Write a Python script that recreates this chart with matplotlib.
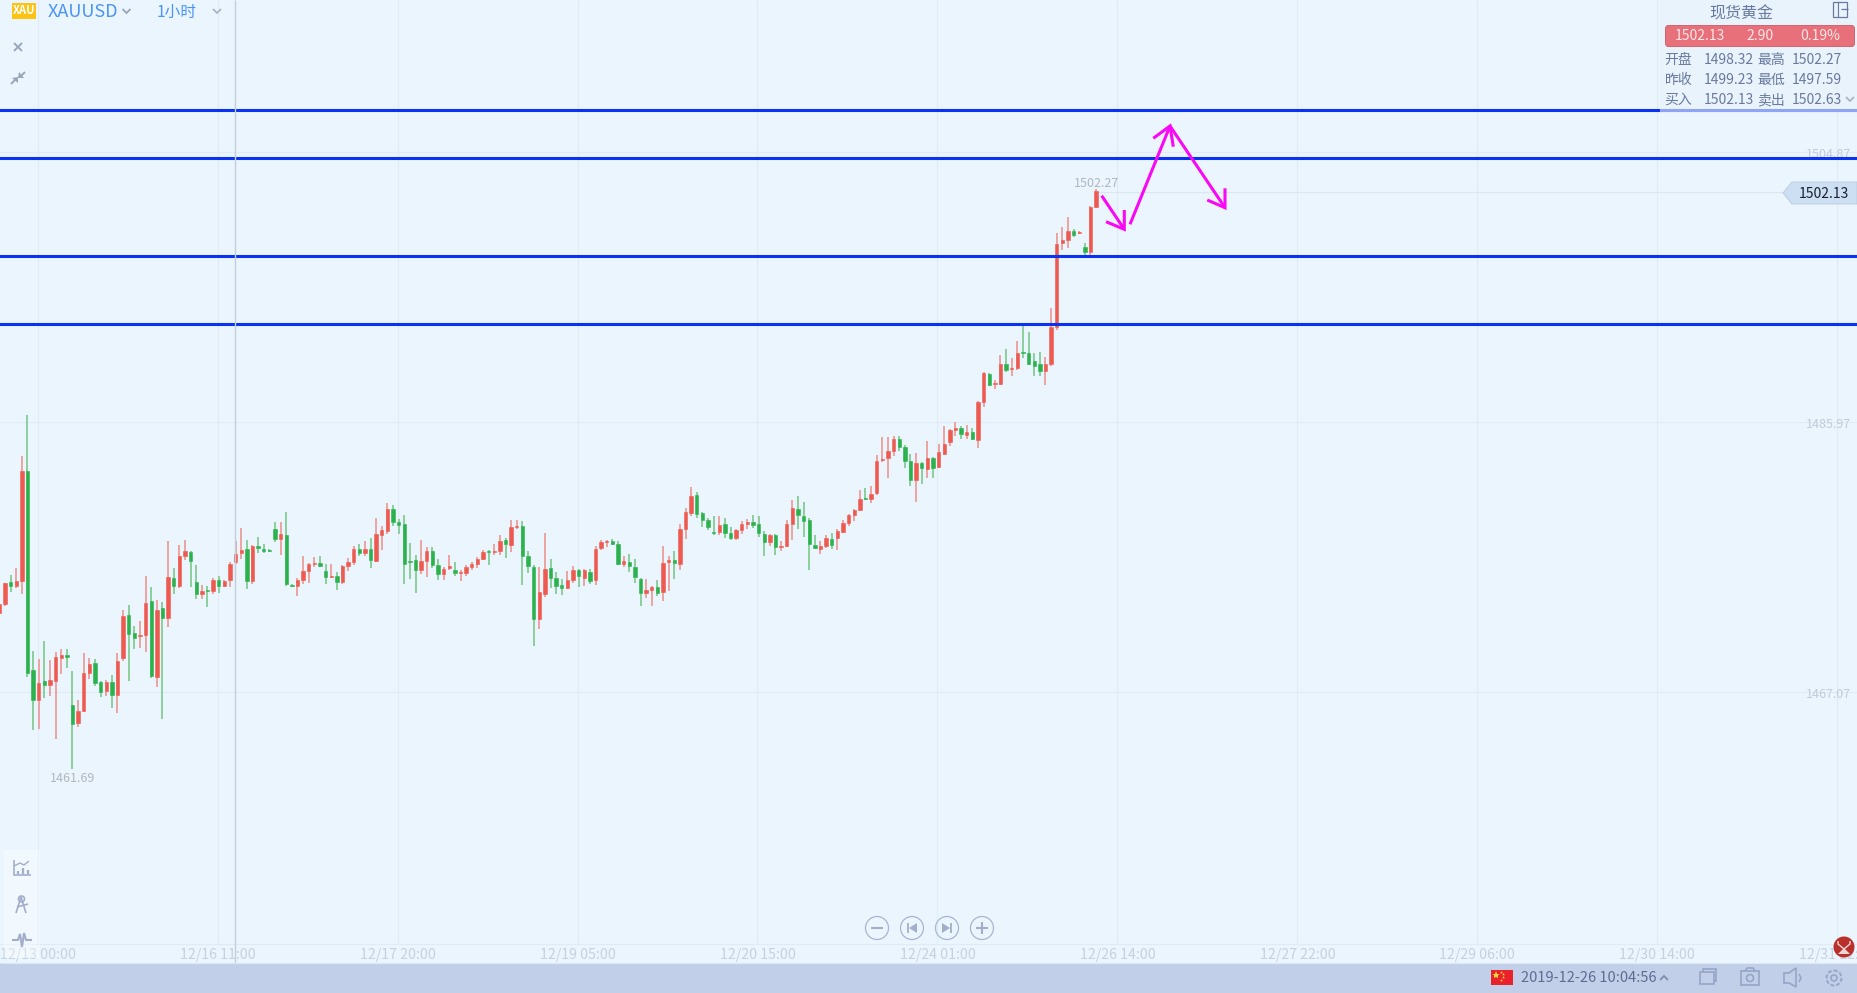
import matplotlib
matplotlib.use("Agg")
import matplotlib.pyplot as plt
from matplotlib.patches import Rectangle, Circle, Polygon, FancyBboxPatch
import numpy as np

plt.rcParams['font.family'] = ['Noto Sans CJK SC', 'DejaVu Sans']

# hourly candles
opens = [
    1472.57,1473.21,1474.79,1474.49,1474.84,1482.54,1468.61,1466.51,1467.84,1467.56,
    1467.84,1469.45,1469.66,1466.16,1464.90,1465.74,1468.40,1469.10,1467.77,1467.14,
    1467.77,1466.86,1469.45,1472.46,1471.20,1470.99,1471.06,1473.44,1468.12,1472.95,
    1472.25,1475.05,1474.49,1476.59,1476.87,1474.77,1473.93,1474.21,1474.14,1474.91,
    1474.49,1474.91,1476.17,1476.80,1477.08,1474.84,1477.29,1477.08,1477.01,1478.48,
    1477.78,1478.06,1474.58,1474.49,1474.91,1475.54,1476.03,1476.10,1475.54,1475.12,
    1475.19,1474.77,1475.89,1476.17,1477.08,1476.80,1477.08,1476.24,1478.06,1478.34,
    1479.88,1478.97,1478.83,1476.24,1476.31,1475.61,1476.24,1476.94,1475.96,1475.33,
    1475.75,1475.61,1475.40,1475.40,1475.82,1476.03,1476.38,1476.94,1476.87,1476.94,
    1477.71,1477.36,1478.62,1478.69,1476.59,1475.82,1472.18,1473.93,1475.75,1475.05,
    1474.56,1474.35,1474.91,1475.61,1475.05,1475.47,1474.91,1477.15,1477.57,1477.64,
    1477.43,1476.03,1476.17,1475.82,1474.98,1474.00,1474.21,1474.42,1474.07,1476.17,
    1476.31,1476.03,1478.48,1479.58,1480.86,1479.60,1479.11,1478.27,1478.27,1478.83,
    1478.20,1477.85,1478.41,1478.83,1478.97,1478.83,1478.13,1477.57,1478.06,1477.22,
    1477.29,1478.83,1479.88,1479.39,1479.11,1477.36,1477.08,1477.29,1477.78,1477.85,
    1478.27,1478.90,1479.46,1479.81,1480.65,1480.58,1481.00,1483.31,1483.45,1483.94,
    1484.78,1484.22,1483.24,1481.91,1483.10,1482.68,1483.45,1482.82,1483.73,1484.57,
    1485.41,1485.55,1485.06,1485.27,1484.71,1487.37,1489.33,1488.63,1488.63,1490.03,
    1489.68,1489.75,1490.87,1490.80,1490.24,1490.03,1489.54,1490.03,1492.64,1498.48,
    1498.71,1499.36,1499.20,1498.22,1497.87,1501.02,
]
closes = [
    1473.23,1474.72,1474.49,1474.84,1482.54,1468.38,1466.51,1467.70,1467.56,1467.91,
    1469.55,1469.66,1469.52,1464.83,1465.74,1468.40,1469.03,1467.70,1467.07,1467.77,
    1466.86,1469.24,1472.39,1471.13,1470.85,1471.06,1473.30,1468.19,1472.81,1472.25,
    1475.12,1474.49,1476.59,1476.94,1476.24,1473.93,1474.14,1474.14,1474.91,1474.49,
    1474.84,1476.03,1476.73,1477.01,1474.84,1477.29,1477.15,1476.94,1476.94,1477.78,
    1478.13,1474.63,1474.49,1474.91,1475.54,1476.03,1476.10,1475.89,1475.12,1475.19,
    1474.77,1475.89,1476.17,1477.08,1476.80,1477.08,1476.31,1478.13,1478.41,1479.88,
    1478.97,1478.76,1476.03,1476.17,1475.61,1476.24,1476.94,1475.96,1475.33,1475.68,
    1475.89,1475.40,1475.47,1475.82,1476.03,1476.38,1476.87,1476.87,1476.94,1477.64,
    1477.43,1478.62,1478.69,1476.59,1475.89,1472.18,1474.07,1475.68,1475.05,1474.49,
    1474.35,1474.91,1475.61,1475.19,1475.61,1474.84,1477.08,1477.57,1477.64,1477.43,
    1476.03,1476.24,1475.89,1475.12,1474.00,1474.21,1474.42,1474.00,1476.10,1476.31,
    1476.10,1478.48,1479.67,1480.79,1479.53,1479.11,1478.62,1478.20,1478.76,1478.20,
    1477.85,1478.41,1478.83,1478.97,1478.76,1478.20,1477.57,1478.06,1477.22,1477.29,
    1478.83,1479.95,1479.46,1479.04,1477.43,1477.15,1477.29,1477.85,1477.36,1478.34,
    1478.90,1479.46,1479.81,1480.58,1480.58,1480.93,1483.24,1483.38,1483.94,1484.78,
    1484.22,1483.24,1481.91,1483.10,1482.75,1483.45,1482.75,1483.87,1484.43,1485.41,
    1485.55,1485.13,1485.27,1484.78,1487.37,1489.40,1488.56,1488.70,1490.03,1489.61,
    1489.75,1490.80,1490.80,1490.03,1489.89,1489.54,1490.03,1492.62,1498.43,1498.71,
    1499.34,1499.08,1499.27,1497.87,1501.02,1502.13,
]
highs = [
    1473.23,1474.72,1475.26,1475.75,1483.59,1486.46,1469.94,1469.38,1470.64,1469.31,
    1469.87,1470.08,1470.08,1468.54,1466.51,1469.80,1469.45,1469.38,1467.84,1467.91,
    1468.26,1469.80,1472.81,1473.16,1471.69,1472.04,1475.19,1474.42,1473.51,1473.37,
    1477.64,1475.75,1477.36,1477.71,1476.94,1475.96,1474.56,1474.49,1475.05,1475.19,
    1474.91,1476.17,1477.64,1478.55,1477.71,1477.36,1477.92,1477.43,1477.08,1478.97,
    1478.97,1479.67,1474.63,1475.05,1476.59,1476.10,1476.52,1476.59,1476.03,1476.03,
    1475.47,1475.96,1476.45,1477.29,1477.43,1477.64,1477.85,1479.25,1478.69,1480.30,
    1480.16,1479.18,1479.46,1477.50,1476.66,1477.71,1477.22,1477.22,1476.38,1475.82,
    1476.66,1476.17,1475.61,1475.96,1476.17,1476.52,1477.01,1477.01,1477.43,1478.06,
    1477.85,1479.11,1479.11,1479.04,1476.94,1475.96,1475.82,1478.20,1476.38,1475.47,
    1474.98,1475.54,1475.89,1475.68,1475.68,1475.68,1477.29,1477.71,1477.71,1477.78,
    1477.64,1476.59,1476.73,1476.38,1475.05,1474.98,1474.49,1474.91,1477.29,1476.59,
    1476.94,1478.83,1479.95,1481.42,1481.07,1479.67,1479.25,1479.39,1479.39,1479.25,
    1478.62,1478.48,1479.04,1479.18,1479.46,1479.39,1478.34,1478.13,1478.13,1477.64,
    1479.11,1480.51,1480.79,1480.37,1479.25,1478.06,1477.64,1478.06,1478.20,1478.48,
    1479.11,1479.53,1479.88,1481.21,1481.35,1481.49,1483.66,1484.92,1484.92,1484.99,
    1484.99,1484.36,1483.73,1483.80,1483.17,1484.64,1483.52,1484.43,1485.69,1485.48,
    1485.97,1485.69,1485.76,1485.55,1487.44,1489.47,1489.40,1488.91,1490.66,1491.08,
    1490.45,1491.64,1492.76,1492.27,1490.80,1490.87,1490.52,1493.95,1499.20,1499.62,
    1500.32,1499.48,1499.32,1498.50,1501.09,1502.27,
]
lows = [
    1472.46,1473.09,1474.07,1474.37,1473.93,1468.15,1464.41,1464.48,1466.65,1466.79,
    1463.78,1468.33,1468.75,1461.69,1464.62,1465.67,1467.98,1467.49,1466.72,1466.79,
    1465.95,1465.60,1469.24,1467.84,1470.08,1470.15,1469.87,1468.05,1467.42,1465.18,
    1471.62,1473.93,1474.35,1476.31,1474.42,1473.58,1473.58,1473.02,1473.93,1474.00,
    1474.42,1474.42,1476.03,1476.38,1474.28,1474.63,1476.80,1476.80,1476.87,1477.57,
    1476.66,1474.49,1474.42,1473.79,1474.63,1474.70,1475.82,1475.82,1474.63,1475.05,
    1474.21,1474.63,1475.54,1475.96,1476.59,1476.59,1475.75,1476.17,1477.01,1478.13,
    1478.69,1478.13,1474.63,1474.98,1474.00,1475.33,1475.12,1475.75,1474.91,1474.91,
    1475.61,1475.19,1474.84,1475.19,1475.61,1475.75,1476.31,1475.96,1476.66,1476.66,
    1476.45,1476.87,1478.48,1474.56,1475.40,1470.29,1471.48,1473.72,1474.35,1473.93,
    1473.86,1474.28,1474.70,1474.42,1474.49,1474.63,1474.56,1477.01,1477.22,1477.36,
    1475.96,1475.82,1475.47,1474.70,1473.09,1473.65,1473.09,1473.79,1473.44,1474.14,
    1474.98,1475.61,1477.78,1479.39,1479.25,1478.62,1478.41,1478.06,1478.06,1477.85,
    1477.71,1477.71,1478.13,1478.48,1478.55,1477.92,1476.59,1477.29,1476.66,1476.94,
    1477.22,1477.71,1478.48,1477.92,1475.61,1477.08,1476.73,1477.15,1477.08,1477.01,
    1478.20,1478.69,1479.04,1479.74,1480.51,1480.30,1480.86,1483.17,1482.05,1483.59,
    1483.94,1482.75,1481.49,1480.37,1481.63,1482.05,1482.05,1482.75,1483.66,1484.29,
    1484.99,1484.78,1484.78,1484.71,1484.15,1487.02,1488.49,1488.28,1488.56,1489.47,
    1489.19,1489.61,1490.45,1489.96,1489.19,1489.19,1488.56,1489.89,1492.41,1498.01,
    1498.15,1498.92,1499.13,1497.66,1497.66,1500.95,
]

time_labels = ['12/13 00:00', '12/16 11:00', '12/17 20:00', '12/19 05:00', '12/20 15:00', '12/24 01:00',
               '12/26 14:00', '12/27 22:00', '12/29 06:00', '12/30 14:00', '12/31 22:00']
price_ticks = [1504.87, 1485.97, 1467.07]
level_lines = [1507.81, 1504.45, 1497.59, 1492.83]
last_price = 1502.13

opens, closes = np.array(opens), np.array(closes)
highs, lows = np.array(highs), np.array(lows)
idx = np.arange(len(opens))
up = closes >= opens

BG = '#eaf5fe'
GRID = '#e0ebf5'
TXT = '#6a799f'
ICON = '#a3aecb'

W, H = 1857, 993
fig = plt.figure(figsize=(W / 100, H / 100), dpi=100, facecolor=BG)
ax = fig.add_axes([0, 0, 1, 1], facecolor=BG)
ax.set_xlim(0.111, 330.3)
ax.set_ylim(1446.0, 1515.51)
ax.axis('off')

# grid, stops at the time axis
tick_idx = 6.8 + 32 * np.arange(len(time_labels))
y_axis_bottom = 1467.07 + 0.07 * (692 - 944)
ax.vlines(tick_idx, y_axis_bottom, 1515.51, color=GRID, lw=0.8, zorder=1)
ax.hlines(price_ticks, 0, 330.3, color=GRID, lw=0.8, zorder=1)
ax.hlines(y_axis_bottom, 0, 330.3, color=GRID, lw=0.8, zorder=1)
for t, lab in zip(tick_idx, time_labels):
    ax.text(t, 1467.07 + 0.07 * (692 - 955), lab, ha='center', va='center', fontsize=10.2, color='#c6d1e0', zorder=2)
for p in price_ticks:
    ax.text(329.2, p - 0.15, f'{p:.2f}', ha='right', va='center', fontsize=9, color='#c2cbd8', zorder=2)

# last price line
ax.hlines(last_price - 0.05, idx[-1], 330.3, color='#dae6f2', lw=0.8, zorder=1)

# candles
red, green = '#ee5a50', '#2bb24c'
red_w, green_w = '#eca3a1', '#8bcf9c'
ax.vlines(idx[up], lows[up], highs[up], color=red_w, lw=1.4, zorder=3)
ax.vlines(idx[~up], lows[~up], highs[~up], color=green_w, lw=1.4, zorder=3)
body_low = np.minimum(opens, closes)
body_h = np.abs(closes - opens)
ax.bar(idx[up], body_h[up], 0.6, bottom=body_low[up], color=red, edgecolor=red, lw=0.4, zorder=4)
ax.bar(idx[~up], body_h[~up], 0.6, bottom=body_low[~up], color=green, edgecolor=green, lw=0.4, zorder=4)

# high / low marks
hi_i, lo_i = int(np.argmax(highs[6:])) + 6, int(np.argmin(lows))
ax.annotate(f'{highs[hi_i]:.2f}', (idx[hi_i], highs[hi_i]), xytext=(0, -0.7), textcoords='offset points',
            ha='center', va='bottom', fontsize=9, color='#b2b7bd', zorder=5)
ax.annotate(f'{lows[lo_i]:.2f}', (idx[lo_i], lows[lo_i]), xytext=(0, -2.3), textcoords='offset points',
            ha='center', va='top', fontsize=9, color='#b2b7bd', zorder=5)

# drawn levels
ax.hlines(level_lines, 0, 330.3, color='#0a32f0', lw=2.2, zorder=6)

# everything else is screen furniture, placed in pixels
ui = fig.add_axes([0, 0, 1, 1], facecolor='none')
ui.set_xlim(0, W)
ui.set_ylim(H, 0)
ui.axis('off')


def line(xs, ys, color=ICON, lw=1.2, z=10):
    ui.plot(xs, ys, color=color, lw=lw, zorder=z, solid_capstyle='butt', solid_joinstyle='miter')


def chevron(x, y, color='#9aa6bb', s=4, flip=1):
    line([x - s, x, x + s], [y - s / 2 * flip, y + s / 2 * flip, y - s / 2 * flip], color, 1.3)


# crosshair
line([235, 235], [0, 963], '#c3cedd', 1.0, 7)

# hand drawn arrows
MAG = '#fa08f5'
for stroke in [
    ([1101.7, 1124.3], [195.7, 229.3]), ([1106, 1124.3, 1124.3], [221.7, 229.3, 210]),
    ([1130, 1170], [224.3, 126]), ([1153.3, 1170, 1173.3], [138.3, 126, 146.7]),
    ([1170, 1225], [126, 207.7]), ([1207.3, 1225, 1225], [200, 207.7, 188.3]),
]:
    line(stroke[0], stroke[1], MAG, 2.2, 8)

# top left
ui.add_patch(Rectangle((12, 3), 24, 16, fc='#fdc313', ec='none', zorder=10))
ui.text(24, 11, 'XAU', ha='center', va='center', fontsize=8, color='white', fontweight='bold', zorder=11)
ui.text(48, 12, 'XAUUSD', ha='left', va='center', fontsize=13, color='#4b94f5', zorder=11)
chevron(126.5, 11)
ui.text(157, 12, '1小时', ha='left', va='center', fontsize=11.3, color='#4b94f5', zorder=11)
chevron(217, 11, '#aab5c8')
line([14, 22], [43, 51], '#9aa6bb', 1.4)
line([22, 14], [43, 51], '#9aa6bb', 1.4)
# collapse icon, two arrows pointing in
line([11, 16], [84, 79], '#9aa6bb', 1.4)
line([20, 25], [77, 72], '#9aa6bb', 1.4)
ui.add_patch(Polygon([(18, 77), (12, 78), (18, 83)], fc='#9aa6bb', ec='none', zorder=10))
ui.add_patch(Polygon([(18, 78), (24, 78), (19, 72)], fc='#9aa6bb', ec='none', zorder=10))

# quote panel
ui.add_patch(Rectangle((1660, 0), 197, 112, fc='#e9f2fa', ec='none', alpha=0.6, zorder=9))
ui.text(1741, 14, '现货黄金', ha='center', va='center', fontsize=11.5, color=TXT, zorder=11)
ui.add_patch(Rectangle((1833, 2), 14, 15, fc='none', ec=TXT, lw=0.9, zorder=11))
line([1838, 1838], [2, 17], TXT, 0.8, 11)
line([1841, 1848], [9, 9], TXT, 0.9, 11)
ui.add_patch(FancyBboxPatch((1667, 27), 186, 18, boxstyle='round,pad=1.5,rounding_size=3', fc='#e8707a', ec='#cf6470', lw=0.7, zorder=10))
for x, s in zip([1700, 1760, 1820], ['1502.13', '2.90', '0.19%']):
    ui.text(x, 36.5, s, ha='center', va='center', fontsize=10, color='#fbe6e8', zorder=11)
rows = [(60, '开盘', '1498.32', '最高', '1502.27'), (80, '昨收', '1499.23', '最低', '1497.59'), (100, '买入', '1502.13', '卖出', '1502.63')]
for y, a, b, c, d in rows:
    for x, s in zip([1664.5, 1703.5, 1757, 1791.5], [a, b, c, d]):
        ui.text(x, y, s, ha='left', va='center', fontsize=10, color=TXT, zorder=11)
chevron(1850, 99, '#aab5c8')

# last price tag
ui.add_patch(Polygon([(1783, 193), (1792, 182), (1857, 182), (1857, 204), (1792, 204)], fc='#cddff2', ec='#bccde2', lw=0.7, zorder=10))
ui.text(1824, 194, f'{last_price:.2f}', ha='center', va='center', fontsize=10, color='#1a2030', zorder=11)

# left tool panel
ui.add_patch(Rectangle((4, 850), 36, 108, fc='white', ec='none', alpha=0.35, zorder=9))
line([14, 14, 31], [860, 875, 875])
line([14, 20, 24, 29], [866, 863, 865, 861], lw=1.0)
for x, t in zip([18, 23, 28], [871, 868, 870]):
    line([x, x], [t, 874], lw=1.6)
line([21, 16], [897, 913])
line([21, 26], [897, 913])
line([17, 28], [907, 904])
ui.add_patch(Circle((21.5, 899), 3, fc='none', ec=ICON, lw=1.2, zorder=10))
line([12, 18, 20, 22, 24, 26, 32], [940, 940, 934, 947, 933, 940, 940], lw=1.5)

# zoom / step buttons
for x in [877, 912, 947, 982]:
    ui.add_patch(Circle((x, 928), 11.5, fc='none', ec='#a9b4d4', lw=0.9, zorder=10))
line([871, 883], [928, 928], lw=1.5)
line([976, 988], [928, 928], lw=1.5)
line([982, 982], [922, 934], lw=1.5)
line([908, 908], [923, 933], lw=1.3)
ui.add_patch(Polygon([(909, 928), (917, 923), (917, 933)], fc=ICON, ec='none', zorder=10))
line([951, 951], [923, 933], lw=1.3)
ui.add_patch(Polygon([(950, 928), (942, 923), (942, 933)], fc=ICON, ec='none', zorder=10))

# status bar
ui.add_patch(Rectangle((0, 963), W, 30, fc='#c2cfe8', ec='none', zorder=9))
line([0, W], [963, 963], '#dfe6f3', 0.8, 9)
ui.add_patch(Rectangle((1491, 970), 22, 15, fc='#e8212a', ec='none', zorder=10))
ui.plot([1496], [975], marker='*', ms=6, color='#f7d93a', mew=0, zorder=11)
ui.plot([1501, 1503, 1503, 1501], [972, 974, 977, 980], ls='none', marker='*', ms=2.2, color='#f7d93a', mew=0, zorder=11)
ui.text(1521, 978, '2019-12-26 10:04:56', ha='left', va='center', fontsize=10.5, color='#5e6c94', zorder=11)
chevron(1664, 978, '#7f8cae', 4, -1)
BAR = '#96a5c8'
ui.add_patch(Rectangle((1700, 972), 14, 12, fc='none', ec=BAR, lw=1.2, zorder=10))
line([1703, 1703, 1716, 1716, 1714], [972, 969, 969, 981, 981], BAR)
ui.add_patch(Rectangle((1741, 971), 18, 14, fc='none', ec=BAR, lw=1.2, zorder=10))
ui.add_patch(Circle((1750, 978), 3.5, fc='none', ec=BAR, lw=1.2, zorder=10))
line([1745, 1747, 1753, 1755], [971, 968, 968, 971], BAR)
ui.add_patch(Polygon([(1784, 973), (1789, 973), (1796, 968), (1796, 987), (1789, 983), (1784, 983)], fc='none', ec=BAR, lw=1.2, zorder=10))
line([1799, 1801, 1799], [974, 978, 982], BAR)
ui.add_patch(Circle((1834, 978), 7.5, fc='none', ec=BAR, lw=1.4, ls=(0, (2, 1)), zorder=10))
ui.add_patch(Circle((1834, 978), 3, fc='none', ec=BAR, lw=1.2, zorder=10))

# logo badge
ui.add_patch(Circle((1844, 947), 10.5, fc='#b92f2c', ec='none', zorder=12))
line([1838, 1838, 1844, 1850, 1850], [941, 944, 949, 944, 941], '#f1d5d2', 1.0, 13)
ui.add_patch(Polygon([(1838, 954), (1844, 948), (1850, 954)], fc='#f1d5d2', ec='none', zorder=13))

fig.savefig('out.png', dpi=100, facecolor=BG)
